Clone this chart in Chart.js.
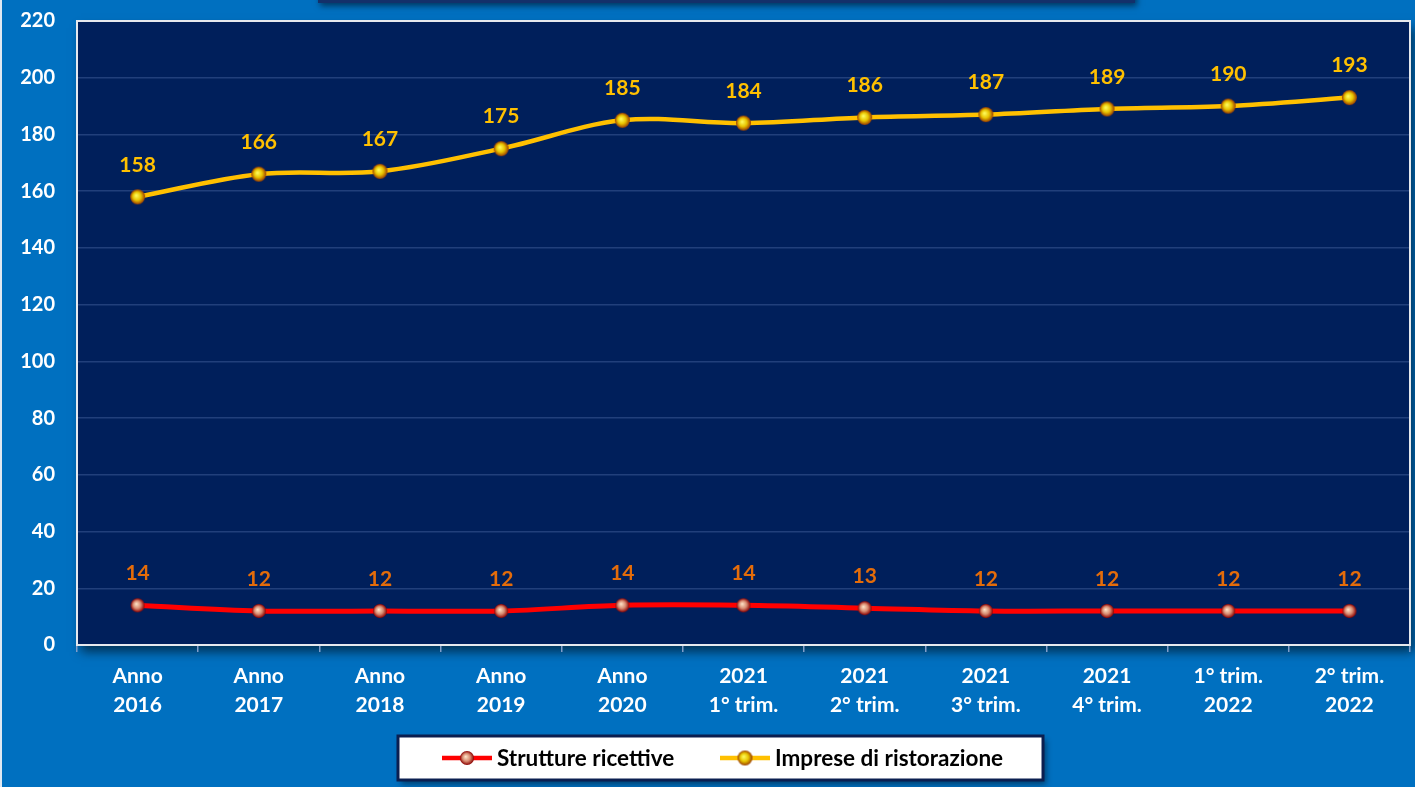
<!DOCTYPE html>
<html>
<head>
<meta charset="utf-8">
<title>Strutture ricettive e imprese di ristorazione</title>
<script src="https://cdn.jsdelivr.net/npm/chart.js@4.4.0/dist/chart.umd.min.js"></script>
<style>
    html, body { margin: 0; padding: 0; background: #0070C0; }
    #wrap { position: relative; width: 1415px; height: 787px; overflow: hidden; background: #0070C0; }
    #titleBox { position: absolute; left: 318px; top: -40px; width: 817px; height: 43px; background: #13306a; box-shadow: 2px 3px 6px rgba(0,0,0,0.5); }
    #leftEdge { position: absolute; left: 0; top: 0; width: 2px; height: 787px; background: #dfe8f2; }
    #chart { position: absolute; left: 0; top: 0; }
</style>
</head>
<body>
<div id="wrap">
    <div id="titleBox"></div>
    <canvas id="chart" width="1422" height="787"></canvas>
    <div id="leftEdge"></div>
</div>
<script>
// Data
const categories = [
    ['Anno', '2016'], ['Anno', '2017'], ['Anno', '2018'], ['Anno', '2019'], ['Anno', '2020'],
    ['2021', '1° trim.'], ['2021', '2° trim.'], ['2021', '3° trim.'], ['2021', '4° trim.'],
    ['1° trim.', '2022'], ['2° trim.', '2022']
];
const strutture = [14, 12, 12, 12, 14, 14, 13, 12, 12, 12, 12];
const imprese = [158, 166, 167, 175, 185, 184, 186, 187, 189, 190, 193];
const yMax = 220;
const yStep = 20;

const FONT = 'Lato, "Open Sans", sans-serif';

// glossy round markers
function makeMarker(r, inner, mid, outer) {
    const size = 2 * r + 2;
    const c = document.createElement('canvas');
    c.width = size;
    c.height = size;
    const g = c.getContext('2d');
    const cx = size / 2;
    const grad = g.createRadialGradient(cx - r * 0.2, cx - r * 0.2, 0, cx, cx, r);
    grad.addColorStop(0, inner);
    grad.addColorStop(0.55, mid);
    grad.addColorStop(1, outer);
    g.fillStyle = grad;
    g.beginPath();
    g.arc(cx, cx, r, 0, Math.PI * 2);
    g.fill();
    return c;
}
const yellowMarker = makeMarker(7.5, '#ffff66', '#e8c400', '#9a3c00');
const redMarker = makeMarker(7, '#ffe8cc', '#d88a70', '#8a0000');

// plot area background + border
const plotArea = {
    id: 'plotArea',
    beforeDraw(chart) {
        const { ctx, chartArea: a } = chart;
        ctx.save();
        ctx.shadowColor = 'rgba(0,0,0,0.55)';
        ctx.shadowBlur = 10;
        ctx.shadowOffsetX = 4;
        ctx.shadowOffsetY = 7;
        ctx.fillStyle = '#001F5B';
        ctx.fillRect(a.left, a.top, a.width, a.height);
        ctx.restore();
    },
    afterDraw(chart) {
        const { ctx, chartArea: a } = chart;
        ctx.save();
        ctx.strokeStyle = '#e6e9ee';
        ctx.lineWidth = 2;
        ctx.strokeRect(a.left, a.top, a.width, a.height);
        ctx.restore();
    }
};

// value labels above points
const valueLabels = {
    id: 'valueLabels',
    afterDatasetsDraw(chart) {
        const { ctx } = chart;
        ctx.save();
        ctx.font = 'bold 21px ' + FONT;
        ctx.textAlign = 'center';
        ctx.textBaseline = 'middle';
        chart.data.datasets.forEach((ds, i) => {
            const meta = chart.getDatasetMeta(i);
            ctx.fillStyle = ds.labelColor;
            meta.data.forEach((pt, j) => {
                ctx.fillText(ds.data[j], pt.x, pt.y - 32);
            });
        });
        ctx.restore();
    }
};

// boxed legend at the bottom
const boxLegend = {
    id: 'boxLegend',
    afterDraw(chart) {
        const { ctx } = chart;
        const box = { x: 398, y: 736, w: 645, h: 44 };
        ctx.save();
        ctx.shadowColor = 'rgba(0,0,0,0.45)';
        ctx.shadowBlur = 6;
        ctx.shadowOffsetX = 3;
        ctx.shadowOffsetY = 4;
        ctx.fillStyle = '#ffffff';
        ctx.fillRect(box.x, box.y, box.w, box.h);
        ctx.restore();

        ctx.save();
        ctx.strokeStyle = '#0b1f50';
        ctx.lineWidth = 3;
        ctx.strokeRect(box.x, box.y, box.w, box.h);

        const starts = [442, 720];
        const cy = box.y + box.h / 2;
        ctx.font = 'bold 22.5px ' + FONT;
        ctx.textBaseline = 'middle';
        chart.data.datasets.forEach((ds, i) => {
            const x0 = starts[i];
            ctx.strokeStyle = ds.borderColor;
            ctx.lineWidth = 4.5;
            ctx.beginPath();
            ctx.moveTo(x0, cy);
            ctx.lineTo(x0 + 50, cy);
            ctx.stroke();
            const img = ds.pointStyle;
            ctx.drawImage(img, x0 + 25 - img.width / 2, cy - img.height / 2);
            ctx.fillStyle = '#000000';
            ctx.textAlign = 'left';
            ctx.fillText(ds.label, x0 + 55, cy + 1);
        });
        ctx.restore();
    }
};

new Chart(document.getElementById('chart'), {
    type: 'line',
    data: {
        labels: categories,
        datasets: [{
            label: 'Strutture ricettive',
            data: strutture,
            borderColor: '#FF0000',
            borderWidth: 5,
            tension: 0.35,
            pointStyle: redMarker,
            pointRadius: 7,
            labelColor: '#E46C0A'
        }, {
            label: 'Imprese di ristorazione',
            data: imprese,
            borderColor: '#FFC000',
            borderWidth: 4.5,
            tension: 0.35,
            pointStyle: yellowMarker,
            pointRadius: 7,
            labelColor: '#FFC000'
        }]
    },
    options: {
        responsive: false,
        animation: false,
        layout: {
            padding: { top: 21, right: 0, left: 2, bottom: 0 }
        },
        plugins: {
            legend: { display: false },
            tooltip: { enabled: false }
        },
        scales: {
            x: {
                offset: true,
                grid: {
                    offset: true,
                    drawOnChartArea: false,
                    drawTicks: true,
                    tickLength: 7,
                    color: '#7f9cc9',
                    lineWidth: 1.5
                },
                border: { display: false },
                ticks: {
                    color: '#ffffff',
                    font: { family: FONT, size: 21, weight: 'bold', lineHeight: 1.38 },
                    padding: 10,
                    maxRotation: 0,
                    autoSkip: false
                },
                afterFit(scale) {
                    scale.height = 142;
                    scale.paddingLeft = 0;
                    scale.paddingRight = 0;
                }
            },
            y: {
                min: 0,
                max: yMax,
                ticks: {
                    stepSize: yStep,
                    color: '#ffffff',
                    font: { family: FONT, size: 20, weight: 'bold' },
                    padding: 22
                },
                grid: {
                    drawTicks: false,
                    color: 'rgba(110,140,200,0.3)',
                    lineWidth: 1.5
                },
                border: { display: false },
                afterFit(scale) {
                    scale.width = 75;
                    scale.paddingTop = 0;
                    scale.paddingBottom = 0;
                }
            }
        }
    },
    plugins: [plotArea, valueLabels, boxLegend]
});
</script>
</body>
</html>
